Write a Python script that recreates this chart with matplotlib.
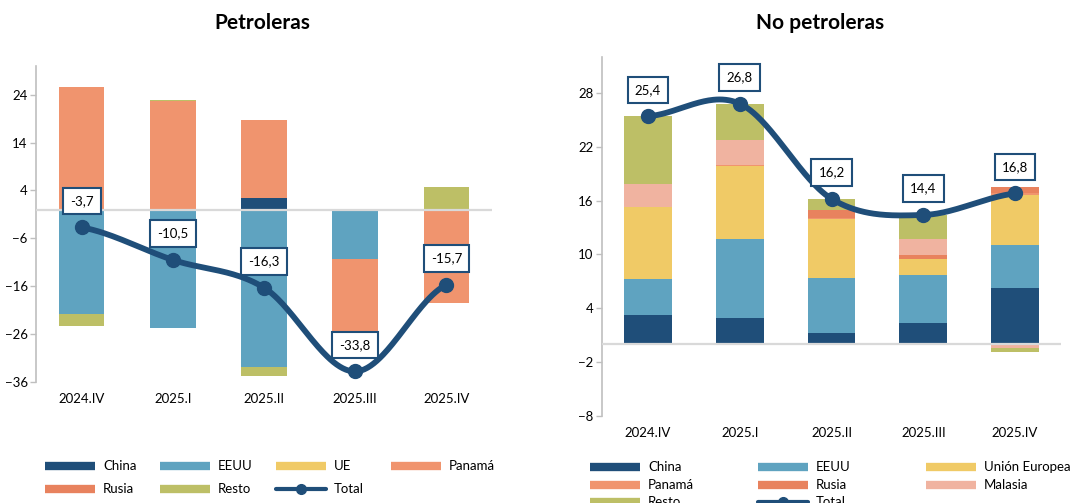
import numpy as np
import matplotlib
matplotlib.use("Agg")
import matplotlib.pyplot as plt
from matplotlib.lines import Line2D

plt.rcParams['font.family'] = ['Lato', 'DejaVu Sans']

categories = ["2024.IV", "2025.I", "2025.II", "2025.III", "2025.IV"]

# Petroleras
pet_series = ["China", "EEUU", "UE", "Panamá", "Rusia", "Resto"]
pet_china = [0.0, 0.0, 2.5, 0.0, 0.0]
pet_eeuu = [-21.9, -24.7, -32.9, -10.4, 0.2]
pet_ue = [0.0, 0.0, 0.0, 0.0, 0.0]
pet_panama = [25.6, 22.7, 16.3, -15.5, -19.6]
pet_rusia = [0.0, 0.0, 0.0, 0.0, 0.0]
pet_resto = [-2.5, 0.3, -1.9, 0.0, 4.6]
pet_total = [-3.7, -10.5, -16.3, -33.8, -15.7]

# No petroleras
nop_series = ["China", "EEUU", "Unión Europea", "Panamá", "Rusia", "Malasia", "Resto"]
nop_china = [3.2, 2.9, 1.2, 2.4, 6.3]
nop_eeuu = [4.1, 8.8, 6.2, 5.3, 4.7]
nop_ue = [8.0, 8.2, 6.5, 1.8, 5.6]
nop_panama = [0.0, 0.1, 0.2, 0.0, 0.2]
nop_rusia = [0.0, 0.0, 0.9, 0.4, 0.7]
nop_malasia = [2.6, 2.8, 0.0, 1.8, -0.4]
nop_resto = [7.5, 4.0, 1.2, 2.7, -0.5]
nop_total = [25.4, 26.8, 16.2, 14.4, 16.8]

C_CHINA = '#1f4e79'
C_EEUU = '#5fa3c0'
C_UE = '#f0ca66'
C_PAN = '#f0946e'
C_RUS = '#e8825e'
C_RESTO = '#bdbf66'
C_MAL = '#f0b3a0'
C_LINE = '#1f4e79'

W, H = 1082, 503
fig = plt.figure(figsize=(W / 100, H / 100), dpi=100)


def catmull(xs, ys, n=60):
    xs = np.asarray(xs, float)
    ys = np.asarray(ys, float)
    m = np.zeros_like(ys)
    m[1:-1] = (ys[2:] - ys[:-2]) / 2
    m[0] = (ys[1] - ys[0]) / 2
    m[-1] = (ys[-1] - ys[-2]) / 2
    ox, oy = [], []
    for i in range(len(xs) - 1):
        t = np.linspace(0, 1, n)
        h00 = 2 * t**3 - 3 * t**2 + 1
        h10 = t**3 - 2 * t**2 + t
        h01 = -2 * t**3 + 3 * t**2
        h11 = t**3 - t**2
        ox.append(xs[i] + t * (xs[i + 1] - xs[i]))
        oy.append(h00 * ys[i] + h10 * m[i] + h01 * ys[i + 1] + h11 * m[i + 1])
    return np.concatenate(ox), np.concatenate(oy)


def stacked(ax, series, colors, width):
    x = np.arange(len(categories))
    pos = np.zeros(len(categories))
    neg = np.zeros(len(categories))
    for vals, col in zip(series, colors):
        v = np.asarray(vals, float)
        bottom = np.where(v >= 0, pos, neg)
        ax.bar(x, v, width, bottom=bottom, color=col, zorder=2, linewidth=0)
        pos = pos + np.where(v >= 0, v, 0)
        neg = neg + np.where(v < 0, v, 0)


def style(ax, ylim, ticks):
    ax.set_xlim(-0.5, 4.5)
    ax.set_ylim(*ylim)
    ax.set_yticks(ticks)
    ax.set_xticks(range(len(categories)))
    ax.set_xticklabels(categories)
    for s in ['top', 'right', 'bottom']:
        ax.spines[s].set_visible(False)
    ax.spines['left'].set_color('#bfbfbf')
    ax.spines['left'].set_linewidth(1.2)
    ax.tick_params(axis='y', length=4, width=1, color='#bfbfbf', pad=2,
                   labelsize=9.5, labelcolor='#000000')
    ax.tick_params(axis='x', length=0, pad=8, labelsize=9.5)
    ax.axhline(0, color='#d9d9d9', lw=1.6, zorder=3)


def total_line(ax, tot):
    x = np.arange(len(categories))
    sx, sy = catmull(x, tot)
    ax.plot(sx, sy, color=C_LINE, lw=4.2, zorder=4, solid_capstyle='round')
    ax.plot(x, tot, 'o', color=C_LINE, ms=10, zorder=5)
    for xi, v in zip(x, tot):
        ax.annotate(f"{v:.1f}".replace('.', ','), (xi, v), xytext=(0, 19),
                    textcoords='offset points', ha='center', va='center',
                    fontsize=9.5, zorder=6,
                    bbox=dict(boxstyle='square,pad=0.55', fc='white',
                              ec=C_LINE, lw=1.5))


# Left panel
ax1 = fig.add_axes([36 / W, 1 - 382 / H, 456 / W, 316 / H])
stacked(ax1, [pet_china, pet_eeuu, pet_ue, pet_panama, pet_rusia, pet_resto],
        [C_CHINA, C_EEUU, C_UE, C_PAN, C_RUS, C_RESTO], 0.5)
style(ax1, (-36, 30), [-36, -26, -16, -6, 4, 14, 24])
total_line(ax1, pet_total)

# Right panel
ax2 = fig.add_axes([602 / W, 1 - 416 / H, 459 / W, 359 / H])
stacked(ax2, [nop_china, nop_eeuu, nop_ue, nop_panama, nop_rusia, nop_malasia, nop_resto],
        [C_CHINA, C_EEUU, C_UE, C_PAN, C_RUS, C_MAL, C_RESTO], 0.52)
style(ax2, (-8, 32), [-8, -2, 4, 10, 16, 22, 28])
total_line(ax2, nop_total)

fig.text(262 / W, 1 - 23 / H, "Petroleras", ha='center', va='center',
         fontsize=15, fontweight='bold')
fig.text(820 / W, 1 - 23 / H, "No petroleras", ha='center', va='center',
         fontsize=15, fontweight='bold')


def legend_item(x, y, label, color, kind='bar'):
    fx0, fx1 = x / W, (x + 50) / W
    fy = 1 - y / H
    if kind == 'bar':
        fig.add_artist(Line2D([fx0, fx1], [fy, fy], color=color, lw=6,
                              solid_capstyle='butt', transform=fig.transFigure))
    else:
        fig.add_artist(Line2D([fx0, fx1], [fy, fy], color=color, lw=3,
                              solid_capstyle='round', transform=fig.transFigure))
        fig.add_artist(Line2D([(fx0 + fx1) / 2], [fy], marker='o', ms=7,
                              color=color, transform=fig.transFigure))
    fig.text((x + 58) / W, fy, label, ha='left', va='center', fontsize=9.5)


left_leg_labels = pet_series + ["Total"]
left_leg_colors = [C_CHINA, C_EEUU, C_UE, C_PAN, C_RUS, C_RESTO, C_LINE]
left_cols = [45, 160, 276, 391]
left_rows = [466, 489]
for i, (lab, col) in enumerate(zip(left_leg_labels, left_leg_colors)):
    r, c = divmod(i, 4)
    legend_item(left_cols[c], left_rows[r], lab, col,
                'line' if lab == 'Total' else 'bar')

right_leg_labels = nop_series + ["Total"]
right_leg_colors = [C_CHINA, C_EEUU, C_UE, C_PAN, C_RUS, C_MAL, C_RESTO, C_LINE]
right_cols = [590, 758, 926]
right_rows = [467, 485, 502]
for i, (lab, col) in enumerate(zip(right_leg_labels, right_leg_colors)):
    r, c = divmod(i, 3)
    legend_item(right_cols[c], right_rows[r], lab, col,
                'line' if lab == 'Total' else 'bar')

fig.savefig("out.png", dpi=100)
